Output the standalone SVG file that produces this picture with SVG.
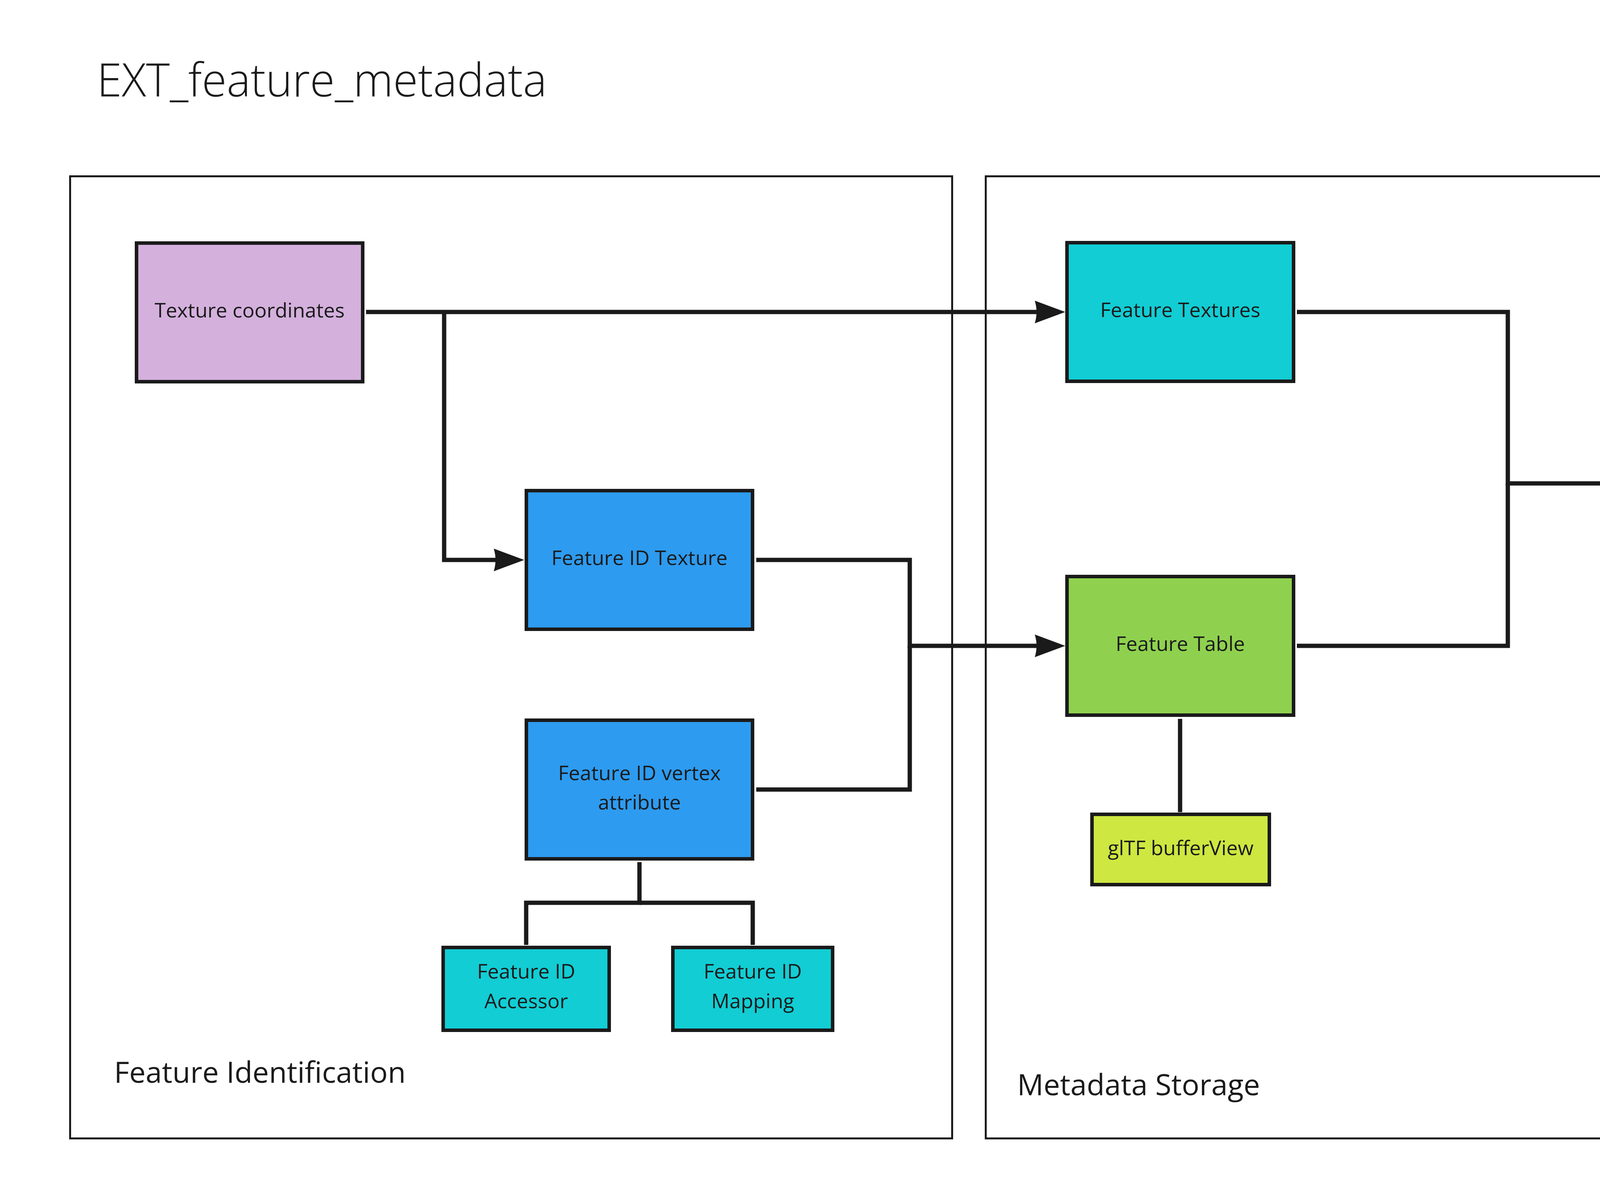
<svg xmlns="http://www.w3.org/2000/svg" width="5292" height="3022" viewBox="0 0 5292 3022">
<style>
  .frame{fill:none;stroke:#1a1a1a;stroke-width:5}
  .node{stroke:#1a1a1a;stroke-width:9}
  .t{font-family:"Open Sans","Noto Sans","Liberation Sans",sans-serif;fill:#1a1a1a}
  .nt{font-size:52px;text-anchor:middle}
  .lbl{font-size:75px}
  .conn path{fill:none;stroke:#1a1a1a;stroke-width:11;stroke-linejoin:miter}
  .purple{fill:#d4b0dd}
  .blue{fill:#2d9bf0}
  .cyan{fill:#12cdd4}
  .green{fill:#8fd14f}
  .lime{fill:#cee741}
  .yellow{fill:#fac710}
</style>
<defs>
  <marker id="arr" markerUnits="userSpaceOnUse" markerWidth="82" markerHeight="62" viewBox="0 -31 82 62" refX="8" refY="0" orient="auto">
    <path d="M78,0 L0,-29 Q9,0 0,29 Z" fill="#1a1a1a"/>
  </marker>
</defs>
<rect width="5292" height="3022" fill="#ffffff"/>
<text class="t" x="248" y="247" font-size="118" font-weight="300" textLength="1152" lengthAdjust="spacingAndGlyphs">EXT_feature_metadata</text>

<g id="frame-feature-identification">
  <rect class="frame" x="179.5" y="451.5" width="2258" height="2464"/>
  <text class="t lbl" x="292" y="2773">Feature Identification</text>
</g>
<g id="frame-metadata-storage">
  <rect class="frame" x="2523.5" y="451.5" width="1644" height="2464"/>
  <text class="t lbl" x="2604" y="2805">Metadata Storage</text>
</g>
<g id="frame-class-definition">
  <rect class="frame" x="4227.5" y="451.5" width="957" height="2464"/>
  <text class="t lbl" x="4273" y="2839">Class Definition</text>
</g>

<g id="connectors" class="conn">
  <path d="M937,799 H2657" marker-end="url(#arr)"/>
  <path d="M1137,799 V1434 H1272" marker-end="url(#arr)"/>
  <path d="M1936,1434 H2329 V1654 H2657" marker-end="url(#arr)"/>
  <path d="M1936,2022 H2329 V1654"/>
  <path d="M3320,799 H3860 V1238 H4344" marker-end="url(#arr)"/>
  <path d="M3320,1654 H3860 V1238"/>
  <path d="M1637,2208 V2312 H1347 V2420"/>
  <path d="M1637,2312 H1927 V2420"/>
  <path d="M3021,1841 V2080"/>
</g>

<g id="texture-coordinates">
  <rect class="node purple" x="349.5" y="622.5" width="579" height="355"/>
  <text class="t nt" x="639" y="813">Texture coordinates</text>
</g>
<g id="feature-id-texture">
  <rect class="node blue" x="1347.5" y="1256.5" width="579" height="355"/>
  <text class="t nt" x="1637" y="1447">Feature ID Texture</text>
</g>
<g id="feature-id-vertex-attribute">
  <rect class="node blue" x="1347.5" y="1844.5" width="579" height="355"/>
  <text class="t nt" x="1637" y="1998">Feature ID vertex</text>
  <text class="t nt" x="1637" y="2073">attribute</text>
</g>
<g id="feature-id-accessor">
  <rect class="node cyan" x="1134.5" y="2426.5" width="425" height="212"/>
  <text class="t nt" x="1347" y="2506">Feature ID</text>
  <text class="t nt" x="1347" y="2582">Accessor</text>
</g>
<g id="feature-id-mapping">
  <rect class="node cyan" x="1722.5" y="2426.5" width="409" height="212"/>
  <text class="t nt" x="1927" y="2506">Feature ID</text>
  <text class="t nt" x="1927" y="2582">Mapping</text>
</g>
<g id="feature-textures">
  <rect class="node cyan" x="2731.5" y="621.5" width="580" height="355"/>
  <text class="t nt" x="3021.5" y="812">Feature Textures</text>
</g>
<g id="feature-table">
  <rect class="node green" x="2731.5" y="1476.5" width="580" height="355"/>
  <text class="t nt" x="3021.5" y="1667">Feature Table</text>
</g>
<g id="gltf-bufferview">
  <rect class="node lime" x="2795.5" y="2085.5" width="454" height="180"/>
  <text class="t nt" x="3022.5" y="2190">glTF bufferView</text>
</g>
<g id="classes">
  <rect class="node yellow" x="4418.5" y="1060.5" width="578" height="355"/>
  <text class="t nt" x="4707" y="1251">Classes</text>
</g>
</svg>
